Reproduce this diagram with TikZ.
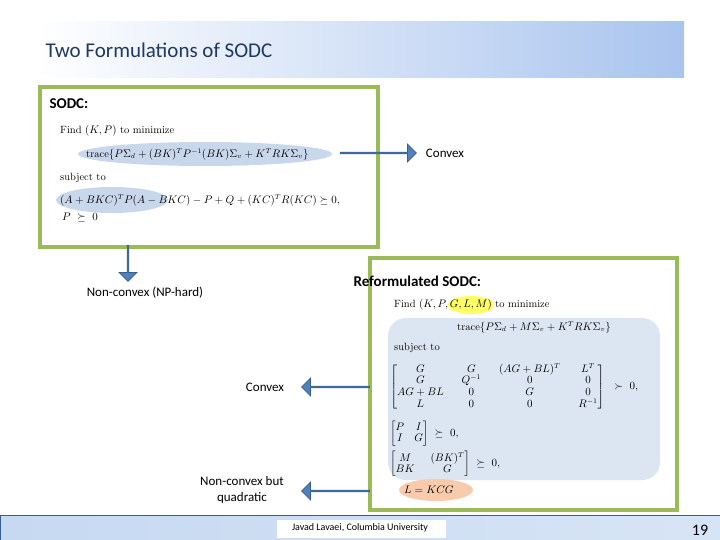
\documentclass[tikz,border=0pt]{standalone}
\usepackage{fontspec}
\usepackage{amsmath,amssymb}
\setmainfont{Carlito}
\newfontfamily\lmr{Latin Modern Roman}
\usetikzlibrary{shapes.arrows,shapes.geometric}
\definecolor{titleblue}{HTML}{1F3864}
\definecolor{grn}{HTML}{9BBB59}
\definecolor{arrblue}{HTML}{4F81BD}
\definecolor{arrdark}{HTML}{385D8A}
\definecolor{hl}{HTML}{C9D7EC}
\definecolor{panel}{HTML}{DCE5F2}
\definecolor{yel}{HTML}{FFFF66}
\definecolor{org}{HTML}{F8CBAD}
\definecolor{foot}{HTML}{C6D9F1}
\definecolor{tbar}{HTML}{A9C4EE}
\begin{document}
\begin{tikzpicture}[x=1pt,y=-1pt,
  frame/.style={draw=grn,line width=4pt},
  barr/.style={single arrow,fill=arrblue,draw=arrdark,line width=0.8pt,minimum width=18pt,single arrow head extend=4pt,inner sep=0pt},
  lbl/.style={font=\fontsize{13}{15}\selectfont},
  mth/.style={font=\lmr\fontsize{10.5}{12}\selectfont,inner sep=0pt,anchor=west}]
\useasboundingbox (0,0) rectangle (720,540);
\fill[white] (0,0) rectangle (720,540);
% title
\shade[left color=white,right color=tbar] (37,22) rectangle (684,78);
\node[anchor=west,text=titleblue,font=\fontsize{21}{24}\selectfont] (title) at (42,50) {Two Formulations of SODC};
% box 1
\draw[frame] (40,87) rectangle (378,247);
\node[anchor=west,font=\bfseries\fontsize{15}{18}\selectfont] (s1) at (46,104) {SODC:};
\fill[hl] (205,154) ellipse (127 and 12);
\fill[hl] (112,200) ellipse (56 and 13);
\node[mth] (f1) at (60,131) {Find $(K,P)$ to minimize};
\node[mth] (t1) at (86,154) {trace$\{P\Sigma_d+(BK)^TP^{-1}(BK)\Sigma_v+K^TRK\Sigma_v\}$};
\node[mth] (st1) at (60,178) {subject to};
\node[mth] (c1) at (60,200) {$(A+BKC)^TP(A-BKC)-P+Q+(KC)^TR(KC)\succeq0,$};
\node[mth] (c2) at (62,218) {$P\ \succeq\ 0$};
% arrows from box1
\node[lbl] (cv1) at (445,153) {Convex};
\node[barr,minimum height=76pt] (a1) at (378,153) {};
\node[lbl] (nc1) at (145,293) {Non-convex (NP-hard)};
\node[barr,minimum height=36pt,shape border rotate=270] (a2) at (128,263) {};
% box 2
\draw[frame] (370,258) rectangle (677,510);
\node[anchor=west,font=\bfseries\fontsize{15}{18}\selectfont] (s2) at (350,281) {Reformulated SODC:};
\fill[panel,rounded corners=18pt] (388,318) rectangle (660,480);
\fill[yel] (471,305) ellipse (23 and 9);
\fill[org] (436,490) ellipse (37 and 11);
\node[mth] (f2) at (394,305) {Find $(K,P,G,L,M)$ to minimize};
\node[mth] (t2) at (457,327) {trace$\{P\Sigma_d+M\Sigma_v+K^TRK\Sigma_v\}$};
\node[mth] (st2) at (394,348) {subject to};
\node[mth] (m1) at (390,387) {$\setlength{\arraycolsep}{9pt}\renewcommand{\arraystretch}{0.95}\left[\begin{matrix} G & G & (AG+BL)^T & L^T\\ G & Q^{-1} & 0 & 0\\ AG+BL & 0 & G & 0\\ L & 0 & 0 & R^{-1}\end{matrix}\right]\ \ \succ\ 0,$};
\node[mth] (m2) at (390,434) {$\renewcommand{\arraystretch}{0.85}\begin{bmatrix} P & I\\ I & G\end{bmatrix}\ \succeq\ 0,$};
\node[mth] (m3) at (390,464) {$\setlength{\arraycolsep}{8pt}\renewcommand{\arraystretch}{0.85}\begin{bmatrix} M & (BK)^T\\ BK & G\end{bmatrix}\ \succeq\ 0,$};
\node[mth] (lk) at (404,490) {$L=KCG$};
\node[lbl] (cv2) at (265,387) {Convex};
\node[barr,minimum height=68pt,shape border rotate=180] (a3) at (336,387) {};
\node[lbl,align=center,font=\fontsize{13}{16}\selectfont] (nc2) at (242,490) {Non-convex but\\quadratic};
\node[barr,minimum height=68pt,shape border rotate=180] (a4) at (336,491) {};
% footer
\shade[left color=foot,right color=foot!70,draw=arrdark] (0,515) rectangle (720,540);
\fill[white] (277,520) rectangle (446,538);
\node[font=\fontsize{10}{12}\selectfont] (ft) at (360,528) {Javad Lavaei, Columbia University};
\node[font=\fontsize{16}{18}\selectfont] (pg) at (700,530) {19};
\end{tikzpicture}
\end{document}
